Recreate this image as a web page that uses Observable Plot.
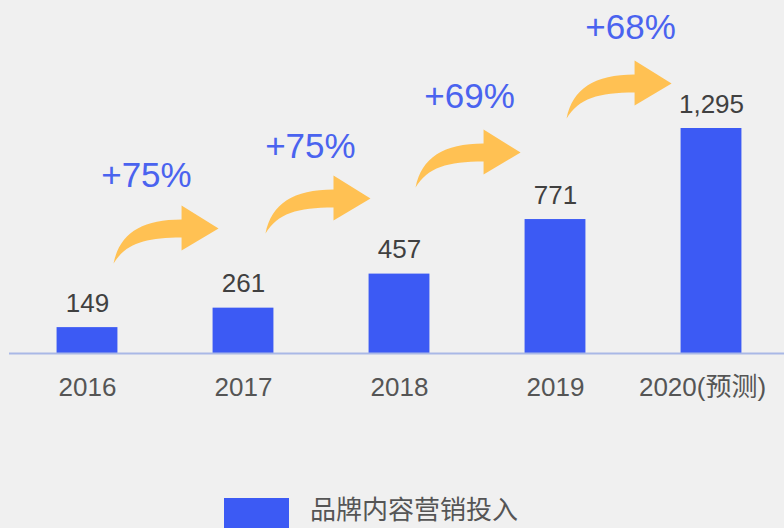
<!DOCTYPE html>
<html><head><meta charset="utf-8">
<script src="https://cdn.jsdelivr.net/npm/d3@7"></script>
<script src="https://cdn.jsdelivr.net/npm/@observablehq/plot@0.6"></script>
<style>
html,body{margin:0;padding:0;background:#f0f0f0;overflow:hidden;width:784px;height:528px;}
#chart svg{display:block;background:transparent;}
#legend{display:flex;align-items:flex-start;height:38px;}
#legend .sw{width:65px;height:30px;background:#3c5af4;margin-left:224px;margin-top:8px;}
#legend .lb{margin-left:21px;margin-top:5px;font:26px/26px "Noto Sans CJK SC","Noto Sans",sans-serif;color:#555;white-space:nowrap;}
</style></head>
<body><div id="chart"></div><div id="legend"><div class="sw"></div><div class="lb"></div></div>
<script>
// ---- data ----
const years = ["2016", "2017", "2018", "2019", "2020(预测)"];
const values = [149, 261, 457, 771, 1295];
const growthLabels = ["+75%", "+75%", "+69%", "+68%"];
const seriesName = "品牌内容营销投入";

// ---- annotation layout (x in category-index units, y in value units) ----
const growthLabelX = [0.378, 1.429, 2.449, 3.481];
const growthLabelY = [1024, 1191, 1479, 1876];
const arrowTailX = [0.167, 1.141, 2.103, 3.071];
const arrowTailY = [518, 691, 955, 1352];

const bars = years.map((year, i) => ({i, year, value: values[i]}));
const growth = growthLabels.map((label, i) => ({label, x: growthLabelX[i], y: growthLabelY[i]}));
const arrows = arrowTailX.map((x, i) => ({x, y: arrowTailY[i]}));

const BLUE = "#3c5af4";
const ORANGE = "#ffc153";
const FONT = "'Liberation Sans', Arial, 'Noto Sans CJK SC', sans-serif";

// curved block arrow drawn as a custom symbol (tail at the anchor)
const curvedArrow = {
  draw(ctx) {
    ctx.moveTo(0, 0);
    ctx.bezierCurveTo(6, -30, 28, -44, 68, -44);
    ctx.lineTo(68, -58);
    ctx.lineTo(105, -35);
    ctx.lineTo(68, -13);
    ctx.lineTo(68, -26);
    ctx.bezierCurveTo(32, -26, 12, -20, 0, 0);
    ctx.closePath();
  }
};

const chart = Plot.plot({
  width: 784,
  height: 490,
  style: {background: "transparent", fontFamily: FONT},
  x: {type: "linear", domain: [0, 4], range: [87, 711], axis: null},
  y: {domain: [0, 1295], range: [353, 128], axis: null},
  marks: [
    Plot.rectY(bars, {x1: d => d.i - 0.195, x2: d => d.i + 0.195, y1: 0, y2: "value", fill: BLUE}),
    Plot.ruleY([0], {x1: -0.5, x2: 4.6, stroke: "#a9b8e6", strokeWidth: 2}),
    Plot.text(bars, {x: "i", y: "value", text: d => d3.format(",")(d.value), dy: -24, fontSize: 26, fill: "#404040"}),
    Plot.text(bars.slice(0, 4), {x: "i", y: 0, text: "year", lineAnchor: "top", dy: 24, fontSize: 26, fill: "#555"}),
    Plot.text(bars.slice(4), {x: "i", y: 0, text: "year", lineAnchor: "top", dy: 24, dx: -9, fontSize: 26, fill: "#555"}),
    Plot.dot(arrows, {x: "x", y: "y", symbol: curvedArrow, r: 10, fill: ORANGE, stroke: "none"}),
    Plot.text(growth, {x: "x", y: "y", text: "label", fontSize: 35, fill: "#4a63ef"})
  ]
});
document.getElementById("chart").append(chart);
document.querySelector("#legend .lb").textContent = seriesName;
</script>
</body></html>
